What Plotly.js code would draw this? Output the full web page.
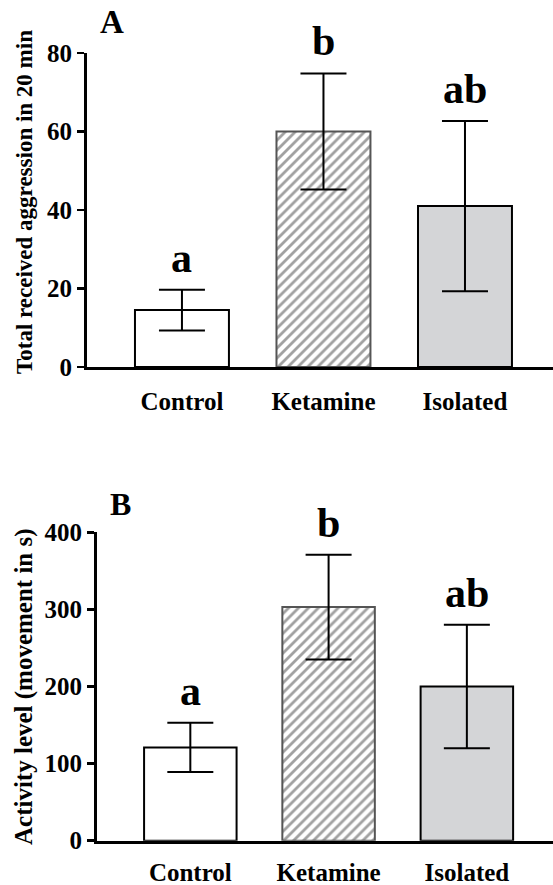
<!DOCTYPE html>
<html>
<head>
<meta charset="utf-8">
<script src="https://cdn.plot.ly/plotly-3.0.1.min.js"></script>
<style>html,body{margin:0;padding:0;background:#fff;}#chart{width:553px;height:885px;}</style>
</head>
<body>
<div id="chart"></div>
<script>
// ---- data ----
const categories = ['Control', 'Ketamine', 'Isolated'];
const aggressionMean = [14.5, 60, 41];
const aggressionSEM = [5.2, 14.8, 21.7];
const activityMean = [121, 303, 200];
const activitySEM = [32, 68, 80];
const letters = ['a', 'b', 'ab'];
const aggressionTicks = [0, 20, 40, 60, 80];
const activityTicks = [0, 100, 200, 300, 400];
const panelLabels = ['A', 'B'];
const yTitles = ['Total received aggression in 20 min', 'Activity level (movement in s)'];

// ---- styles ----
const FAM = '"Liberation Serif", "Times New Roman", Times, serif';
const fillColors = ['#ffffff', '#ffffff', '#d4d5d7'];
const lineColors = ['#000000', '#555555', '#000000'];
const patternShapes = ['', '/', ''];

function barTrace(means, errs, xa, ya, width) {
  return {
    type: 'bar',
    x: categories,
    y: means,
    xaxis: xa,
    yaxis: ya,
    width: width,
    marker: {
      color: fillColors,
      line: {color: lineColors, width: 2},
      pattern: {shape: patternShapes, fgcolor: '#6a6a6a', bgcolor: '#ffffff', size: 7, solidity: 0.4, fillmode: 'overlay'}
    },
    error_y: {type: 'data', array: errs, visible: true, color: '#000', thickness: 2, width: 23},
    hoverinfo: 'skip',
    showlegend: false
  };
}

const data = [
  barTrace(aggressionMean, aggressionSEM, 'x', 'y', 0.664),
  barTrace(activityMean, activitySEM, 'x2', 'y2', 0.669)
];

const catFont = {family: FAM, size: 25, color: '#000', weight: 'bold'};

function yAxis(domain, range, ticks, anchor, size) {
  return {
    domain: domain, range: range, anchor: anchor,
    tickvals: ticks, ticktext: ticks.map(String),
    showgrid: false, zeroline: false,
    showline: true, linecolor: '#000', linewidth: 3,
    ticks: 'outside', ticklen: 7, tickwidth: 2.5, tickcolor: '#000',
    tickfont: {family: FAM, size: size, color: '#000', weight: 'bold'},
    fixedrange: true
  };
}
function xAxis(domain, range, anchor, tl) {
  return {
    domain: domain, range: range, anchor: anchor, type: 'category',
    showgrid: false, zeroline: false,
    showline: true, linecolor: '#000', linewidth: 3,
    ticks: 'outside', ticklen: tl, tickcolor: 'rgba(0,0,0,0)',
    tickfont: catFont,
    fixedrange: true
  };
}

const annotations = [];
function addLetters(means, errs, xref, yref) {
  categories.forEach((c, i) => {
    annotations.push({
      x: c, y: means[i] + errs[i], xref: xref, yref: yref,
      text: letters[i], showarrow: false, yanchor: 'bottom', xanchor: 'center', yshift: 7,
      font: {family: FAM, size: 42, color: '#000', weight: 'bold'}
    });
  });
}
addLetters(aggressionMean, aggressionSEM, 'x', 'y');
addLetters(activityMean, activitySEM, 'x2', 'y2');

annotations.push({xref: 'paper', yref: 'paper', x: 112/553, y: 1 - 22/885, text: panelLabels[0], showarrow: false,
  xanchor: 'center', yanchor: 'middle', font: {family: FAM, size: 33, color: '#000', weight: 'bold'}});
annotations.push({xref: 'paper', yref: 'paper', x: 120/553, y: 1 - 504/885, text: panelLabels[1], showarrow: false,
  xanchor: 'center', yanchor: 'middle', font: {family: FAM, size: 32, color: '#000', weight: 'bold'}});
annotations.push({xref: 'paper', yref: 'paper', x: 24/553, y: 1 - 202/885, text: yTitles[0], showarrow: false,
  textangle: -90, xanchor: 'center', yanchor: 'middle', font: {family: FAM, size: 23, color: '#000', weight: 'bold'}});
annotations.push({xref: 'paper', yref: 'paper', x: 24/553, y: 1 - 687/885, text: yTitles[1], showarrow: false,
  textangle: -90, xanchor: 'center', yanchor: 'middle', font: {family: FAM, size: 25, color: '#000', weight: 'bold'}});

const layout = {
  width: 553, height: 885,
  margin: {l: 0, r: 0, t: 0, b: 0},
  paper_bgcolor: '#fff', plot_bgcolor: 'rgba(0,0,0,0)',
  showlegend: false,
  xaxis: xAxis([87/553, 1], [-0.671, 2.622], 'y', 10),
  yaxis: yAxis([1 - 367/885, 1 - 53/885], [0, 80], aggressionTicks, 'x', 25),
  xaxis2: xAxis([97/553, 1], [-0.675, 2.623], 'y2', 7),
  yaxis2: yAxis([1 - 840.7/885, 1 - 532.3/885], [0, 400], activityTicks, 'x2', 25),
  annotations: annotations
};

Plotly.newPlot('chart', data, layout, {displayModeBar: false, staticPlot: true});
</script>
</body>
</html>
